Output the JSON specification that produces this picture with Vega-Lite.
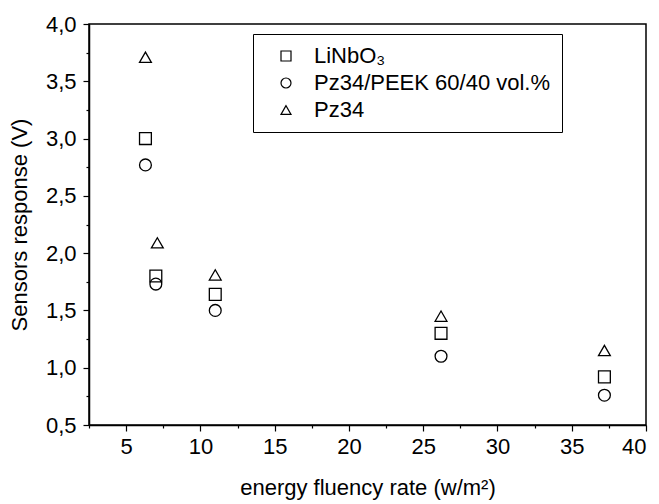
{
  "$schema": "https://vega.github.io/schema/vega-lite/v6.json",
  "width": 557,
  "height": 401,
  "autosize": {"type": "none"},
  "padding": {"left": 89, "top": 24, "right": 13, "bottom": 79},
  "background": "white",
  "config": {
    "font": "Liberation Sans",
    "view": {"stroke": "black", "strokeWidth": 1.5},
    "axis": {"grid": false, "domainColor": "black", "domainWidth": 1.5, "tickColor": "black", "tickWidth": 1.2, "labelColor": "black", "titleColor": "black", "labelFont": "Liberation Sans", "titleFont": "Liberation Sans", "labelFontSize": 22, "titleFontSize": 22, "titleFontWeight": "normal"}
  },
  "data": {
    "values": [
      {"x": 6.3, "y": 3.0, "s": "LiNbO₃"},
      {"x": 7.0, "y": 1.8, "s": "LiNbO₃"},
      {"x": 11.0, "y": 1.64, "s": "LiNbO₃"},
      {"x": 26.2, "y": 1.3, "s": "LiNbO₃"},
      {"x": 37.2, "y": 0.92, "s": "LiNbO₃"},
      {"x": 6.3, "y": 2.77, "s": "Pz34/PEEK 60/40 vol.%"},
      {"x": 7.0, "y": 1.73, "s": "Pz34/PEEK 60/40 vol.%"},
      {"x": 11.0, "y": 1.5, "s": "Pz34/PEEK 60/40 vol.%"},
      {"x": 26.2, "y": 1.1, "s": "Pz34/PEEK 60/40 vol.%"},
      {"x": 37.2, "y": 0.76, "s": "Pz34/PEEK 60/40 vol.%"},
      {"x": 6.3, "y": 3.71, "s": "Pz34"},
      {"x": 7.1, "y": 2.09, "s": "Pz34"},
      {"x": 11.0, "y": 1.81, "s": "Pz34"},
      {"x": 26.2, "y": 1.45, "s": "Pz34"},
      {"x": 37.2, "y": 1.15, "s": "Pz34"}
    ]
  },
  "mark": {"type": "point", "filled": false, "stroke": "black", "strokeWidth": 1.3, "size": 140, "opacity": 1},
  "encoding": {
    "x": {
      "field": "x", "type": "quantitative",
      "scale": {"domain": [2.5, 40], "nice": false, "zero": false},
      "axis": {
        "title": "energy fluency rate (w/m²)",
        "values": [2.5, 5, 7.5, 10, 12.5, 15, 17.5, 20, 22.5, 25, 27.5, 30, 32.5, 35, 37.5, 40],
        "labelExpr": "datum.value % 5 == 0 ? format(datum.value, 'd') : ''",
        "tickSize": {"condition": {"test": "datum.value % 5 == 0", "value": 6}, "value": 3},
        "labelPadding": 5,
        "titlePadding": 20
      }
    },
    "y": {
      "field": "y", "type": "quantitative",
      "scale": {"domain": [0.5, 4.0], "nice": false, "zero": false},
      "axis": {
        "title": "Sensors response (V)",
        "values": [0.5, 0.75, 1.0, 1.25, 1.5, 1.75, 2.0, 2.25, 2.5, 2.75, 3.0, 3.25, 3.5, 3.75, 4.0],
        "labelExpr": "abs(datum.value * 2 - round(datum.value * 2)) < 0.001 ? replace(format(datum.value, '.1f'), '.', ',') : ''",
        "tickSize": {"condition": {"test": "abs(datum.value * 2 - round(datum.value * 2)) < 0.001", "value": 6}, "value": 3},
        "labelPadding": 7,
        "titlePadding": 14
      }
    },
    "shape": {
      "field": "s", "type": "nominal",
      "scale": {"domain": ["LiNbO₃", "Pz34/PEEK 60/40 vol.%", "Pz34"], "range": ["square", "circle", "triangle-up"]},
      "legend": {
        "title": null,
        "orient": "none",
        "legendX": 164,
        "legendY": 10,
        "strokeColor": "black",
        "fillColor": "white",
        "padding": 11,
        "symbolOffset": 11,
        "symbolSize": 100,
        "symbolStrokeColor": "black",
        "symbolStrokeWidth": 1.2,
        "symbolFillColor": "transparent",
        "labelFontSize": 22,
        "labelFont": "Liberation Sans",
        "labelColor": "black",
        "labelLimit": 500,
        "labelOffset": 17,
        "rowPadding": 5
      }
    }
  }
}
